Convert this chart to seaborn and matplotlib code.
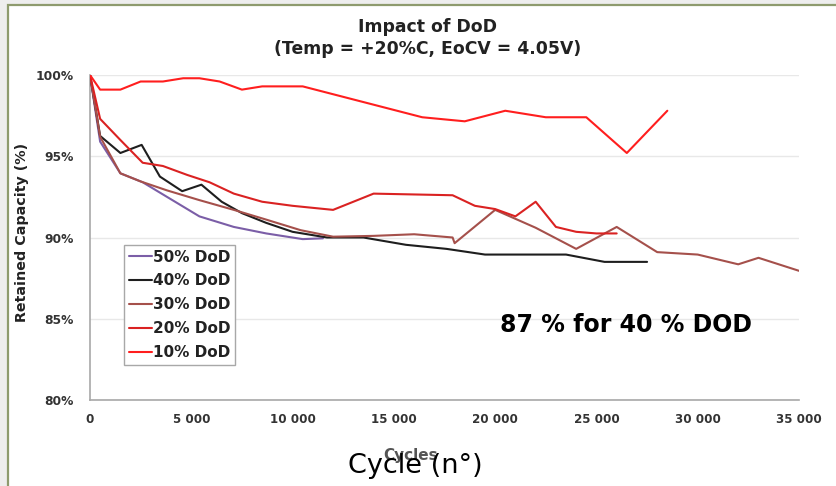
import matplotlib
matplotlib.use("Agg")
import matplotlib.pyplot as plt
from matplotlib.patches import Rectangle
import numpy as np
import pandas as pd
import seaborn as sns

# Capacity retention vs. cycle count for each depth of discharge
cycles_50 = [0, 500, 1500, 2600, 3800, 5400, 7100, 8700, 10500, 11500]
cap_50 = [100, 95.9, 93.95, 93.4, 92.5, 91.3, 90.65, 90.25, 89.9, 89.95]

cycles_40 = [0, 500, 1500, 2550, 3450, 4550, 5500, 6500, 7500, 8700, 10000,
             11700, 13500, 15600, 17600, 19500, 23500, 25400, 27500]
cap_40 = [100, 96.25, 95.2, 95.7, 93.75, 92.85, 93.25, 92.2, 91.5, 90.9, 90.35,
          90.0, 90.0, 89.55, 89.3, 88.95, 88.95, 88.5, 88.5]

cycles_30 = [0, 500, 1500, 2500, 3800, 5400, 7100, 8700, 10400, 12000, 14000,
             16000, 17900, 18000, 20000, 22000, 24000, 26000, 28000, 30000,
             32000, 33000, 35000]
cap_30 = [100, 96.2, 93.95, 93.45, 92.9, 92.3, 91.7, 91.1, 90.45, 90.05, 90.1,
          90.2, 90.0, 89.65, 91.7, 90.6, 89.3, 90.65, 89.1, 88.95,
          88.35, 88.75, 87.95]

cycles_20 = [0, 500, 1500, 2600, 3600, 4800, 5900, 7100, 8500, 10000, 12000,
             14000, 17900, 19000, 20000, 21000, 22000, 23000, 24000, 25000, 26000]
cap_20 = [100, 97.3, 96.0, 94.6, 94.4, 93.85, 93.4, 92.7, 92.2, 91.95, 91.7,
          92.7, 92.6, 91.95, 91.75, 91.3, 92.2, 90.65, 90.35, 90.25, 90.25]

cycles_10 = [0, 500, 1500, 2500, 3600, 4600, 5400, 6400, 7500, 8500, 10500,
             16400, 18500, 20500, 22500, 24500, 26500, 28500]
cap_10 = [100, 99.1, 99.1, 99.6, 99.6, 99.8, 99.8, 99.6, 99.1, 99.3, 99.3,
          97.4, 97.15, 97.8, 97.4, 97.4, 95.2, 97.8]

series_names = ["50% DoD", "40% DoD", "30% DoD", "20% DoD", "10% DoD"]
series_cycles = [cycles_50, cycles_40, cycles_30, cycles_20, cycles_10]
series_caps = [cap_50, cap_40, cap_30, cap_20, cap_10]
series_colors = ["#7B5EA7", "#1E1E1E", "#A5504B", "#DA2222", "#FF1E1E"]

x_ticks = [0, 5000, 10000, 15000, 20000, 25000, 30000, 35000]
x_tick_labels = ["0", "5 000", "10 000", "15 000", "20 000", "25 000", "30 000", "35 000"]
y_ticks = [80, 85, 90, 95, 100]
y_tick_labels = ["80%", "85%", "90%", "95%", "100%"]

df = pd.concat(
    [pd.DataFrame({"cycles": c, "capacity": v, "DoD": n})
     for n, c, v in zip(series_names, series_cycles, series_caps)],
    ignore_index=True,
)

sns.set_style("white")
plt.rcParams["font.family"] = ["DejaVu Sans"]

W, H = 837, 486
fig = plt.figure(figsize=(W / 100, H / 100), dpi=100)
fig.patch.set_facecolor("#EEEEEE")
# white slide panel with olive border, kept behind the axes
fig.patches.append(Rectangle((8 / W, -0.05), 1.1, 1 - 5 / H + 0.05,
                             transform=fig.transFigure, facecolor="white",
                             edgecolor="#8E9B6E", linewidth=1.6, zorder=-10))

ax = fig.add_axes([90 / W, 1 - 400 / H, (799 - 90) / W, (400 - 75) / H])
ax.set_zorder(1)
ax.set_facecolor("none")

sns.lineplot(data=df, x="cycles", y="capacity", hue="DoD",
             hue_order=series_names,
             palette=dict(zip(series_names, series_colors)),
             estimator=None, sort=False, linewidth=1.5, ax=ax, zorder=3)

ax.set_xlim(0, 35000)
ax.set_ylim(80, 100)
ax.set_xticks(x_ticks)
ax.set_xticklabels(x_tick_labels)
ax.set_yticks(y_ticks)
ax.set_yticklabels(y_tick_labels)

for lab in ax.get_xticklabels() + ax.get_yticklabels():
    lab.set_fontweight("bold")
    lab.set_color("#333333")
ax.tick_params(axis="x", labelsize=8.6, length=4, width=1, color="#A0A0A0",
               direction="out", pad=5)
ax.tick_params(axis="y", labelsize=8.8, length=4, width=1, color="#A0A0A0",
               direction="out", pad=8)

ax.grid(axis="y", color="#E8E8E8", linewidth=1)
ax.grid(axis="x", visible=False)
for s in ["top", "right"]:
    ax.spines[s].set_visible(False)
for s in ["left", "bottom"]:
    ax.spines[s].set_color("#A8A8A8")
    ax.spines[s].set_linewidth(1.2)

ax.set_ylabel("")
ax.set_xlabel("Cycles", fontsize=11, fontweight="bold", color="#555555")
ax.xaxis.set_label_coords((411 - 90) / (799 - 90), -(455 - 400) / (400 - 75))
ax.xaxis.label.set_verticalalignment("center")

handles, labels = ax.get_legend_handles_labels()
leg = ax.legend(handles, labels, loc="upper left",
                bbox_to_anchor=(124 / W, 1 - 245 / H),
                bbox_transform=fig.transFigure, borderaxespad=0,
                prop={"weight": "bold", "size": 11}, handlelength=1.55,
                handletextpad=0.05, labelspacing=0.58, borderpad=0.3,
                fancybox=False, framealpha=1, edgecolor="#A8A8A8")
leg.get_frame().set_linewidth(1)
for t in leg.get_texts():
    t.set_color("#222222")

fig.text(428 / W, 1 - 18 / H, "Impact of DoD\n(Temp = +20%C, EoCV = 4.05V)",
         ha="center", va="top", fontsize=12.4, fontweight="bold",
         color="#222222", linespacing=1.25)

fig.text(22 / W, 1 - 232 / H, "Retained Capacity (%)", rotation=90,
         ha="center", va="center", fontsize=10.3, fontweight="bold",
         color="#222222")

fig.text(500 / W, 1 - 332 / H, "87 % for 40 % DOD", ha="left", va="baseline",
         fontsize=17, fontweight="bold", color="black", zorder=5)

fig.text(348 / W, 1 - 473 / H, "Cycle (n°)", ha="left", va="baseline",
         fontsize=19.5, color="black", zorder=5)

fig.savefig("out.png", dpi=100, facecolor=fig.get_facecolor())
